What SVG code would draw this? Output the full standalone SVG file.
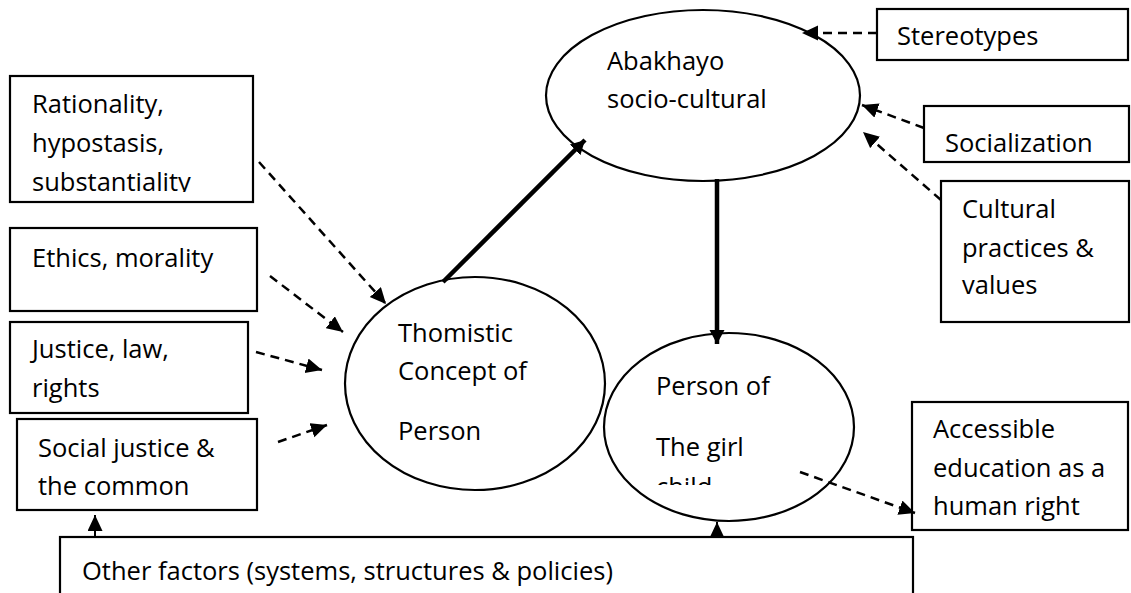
<svg xmlns="http://www.w3.org/2000/svg" width="1131" height="593" viewBox="0 0 1131 593">
<style>
  .box { fill: #fff; stroke: #000; stroke-width: 2.2; }
  .ell { fill: #fff; stroke: #000; stroke-width: 2.2; }
  text { font-family: "Open Sans", "Noto Sans", sans-serif; font-size: 25.5px; fill: #000; }
  .dash { fill: none; stroke: #000; stroke-width: 2.5; stroke-dasharray: 9 6; marker-end: url(#ah); }
  .thick { fill: none; stroke: #000; stroke-width: 4.5; marker-end: url(#ahb); }
  .solid { fill: none; stroke: #000; stroke-width: 2; marker-end: url(#ah); }
</style>
<defs>
  <marker id="ah" markerUnits="userSpaceOnUse" markerWidth="18" markerHeight="16" refX="16" refY="7.5" orient="auto">
    <path d="M0,0 L16,7.5 L0,15 z" fill="#000"/>
  </marker>
  <marker id="ahb" markerUnits="userSpaceOnUse" markerWidth="16" markerHeight="16" refX="14" refY="7.5" orient="auto">
    <path d="M0,0 L14,7.5 L0,15 z" fill="#000"/>
  </marker>
  <clipPath id="clipRat"><rect x="10" y="76" width="243" height="116"/></clipPath>
  <clipPath id="clipGirl"><rect x="600" y="330" width="260" height="155"/></clipPath>
</defs>

<g id="rationality">
  <rect class="box" x="10" y="76" width="243" height="126"/>
  <g clip-path="url(#clipRat)">
    <text x="32" y="113">Rationality,</text>
    <text x="32" y="152">hypostasis,</text>
    <text x="32" y="191">substantiality</text>
  </g>
</g>

<g id="ethics">
  <rect class="box" x="10" y="228" width="247" height="83"/>
  <text x="32" y="267">Ethics, morality</text>
</g>

<g id="justice">
  <rect class="box" x="10" y="322" width="238" height="91"/>
  <text x="32" y="358">Justice, law,</text>
  <text x="32" y="397">rights</text>
</g>

<g id="socialjustice">
  <rect class="box" x="17" y="419" width="240" height="91"/>
  <text x="38" y="457">Social justice &amp;</text>
  <text x="38" y="495">the common</text>
</g>

<g id="otherfactors">
  <rect class="box" x="60" y="537" width="853" height="70"/>
  <text x="82" y="580">Other factors (systems, structures &amp; policies)</text>
</g>

<g id="thomistic">
  <ellipse class="ell" cx="475" cy="383.5" rx="130" ry="106.5"/>
  <text x="398" y="342">Thomistic</text>
  <text x="398" y="380">Concept of</text>
  <text x="398" y="440">Person</text>
</g>

<g id="abakhayo">
  <ellipse class="ell" cx="703" cy="95.5" rx="157" ry="85.5"/>
  <text x="607" y="70">Abakhayo</text>
  <text x="607" y="108">socio-cultural</text>
</g>

<g id="girlchild">
  <ellipse class="ell" cx="729" cy="427" rx="125" ry="94"/>
  <g clip-path="url(#clipGirl)">
    <text x="656" y="395">Person of</text>
    <text x="656" y="456">The girl</text>
    <text x="656" y="496">child</text>
  </g>
</g>

<g id="stereotypes">
  <rect class="box" x="877" y="9" width="251" height="51"/>
  <text x="897" y="45">Stereotypes</text>
</g>

<g id="socialization">
  <rect class="box" x="924" y="106" width="205" height="56"/>
  <text x="945" y="152">Socialization</text>
</g>

<g id="cultural">
  <rect class="box" x="941" y="181" width="188" height="141"/>
  <text x="962" y="218">Cultural</text>
  <text x="962" y="257">practices &amp;</text>
  <text x="962" y="294">values</text>
</g>

<g id="accessible">
  <rect class="box" x="912" y="402" width="216" height="128"/>
  <text x="933" y="438">Accessible</text>
  <text x="933" y="477">education as a</text>
  <text x="933" y="515">human right</text>
</g>

<g id="connectors">
  <line class="dash" x1="259" y1="162" x2="386" y2="304"/>
  <line class="dash" x1="270" y1="276" x2="343" y2="332"/>
  <line class="dash" x1="256" y1="352" x2="322" y2="370"/>
  <line class="dash" x1="278" y1="442" x2="327" y2="425"/>
  <line class="thick" x1="443" y1="282" x2="585" y2="140"/>
  <line class="thick" x1="717" y1="179" x2="717" y2="344"/>
  <line class="dash" x1="877" y1="33" x2="802" y2="33"/>
  <line class="dash" x1="924" y1="128" x2="862" y2="105"/>
  <line class="dash" x1="941" y1="200" x2="863" y2="132"/>
  <line class="dash" x1="800" y1="472" x2="915" y2="513"/>
  <line class="solid" x1="95" y1="537" x2="95" y2="515"/>
  <line class="solid" x1="717" y1="537" x2="717" y2="522"/>
</g>
</svg>
